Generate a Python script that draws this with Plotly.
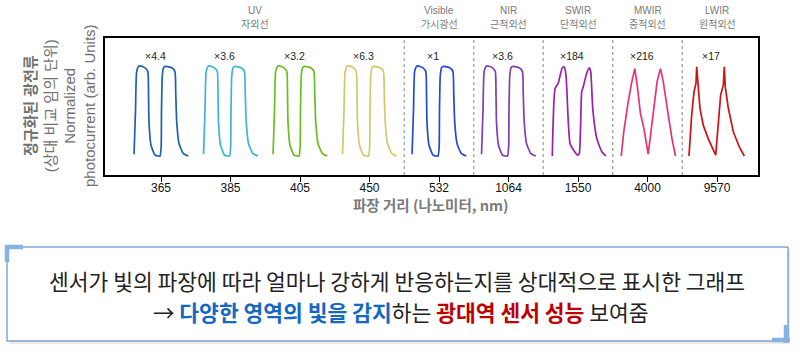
import plotly.graph_objects as go

# ---------------- data ----------------
wavelengths = ["365", "385", "405", "450", "532", "1064", "1550", "4000", "9570"]
multipliers = ["×4.4", "×3.6", "×3.2", "×6.3", "×1", "×3.6", "×184", "×216", "×17"]
waveform_kind = ["square", "square", "square", "square", "square", "square", "swir", "mwir", "lwir"]
band_en = ["UV", "Visible", "NIR", "SWIR", "MWIR", "LWIR"]
band_ko = ["자외선", "가시광선", "근적외선", "단적외선", "중적외선", "원적외선"]
band_members = [[0, 1, 2, 3], [4], [5], [6], [7], [8]]

# normalized waveforms (offset within category, normalized current)
square_t = [-0.388, -0.367, -0.35, -0.317, -0.27, -0.23, -0.19, -0.18, -0.173, -0.144, -0.086, -0.04, -0.014,
            0.002, 0.007, 0.019, 0.04, 0.068, 0.11, 0.154, 0.2, 0.212, 0.226, 0.259, 0.32, 0.393]
square_y = [0.02, 0.51, 0.94, 1.0, 0.995, 0.98, 0.94, 0.70, 0.38, 0.12, 0.01, 0.0, 0.0,
            0.10, 0.50, 0.90, 0.985, 0.995, 0.99, 0.98, 0.94, 0.70, 0.38, 0.14, 0.03, 0.0]
swir_t = [-0.37, -0.33, -0.284, -0.226, -0.197, -0.173, -0.14, -0.115, -0.067, -0.004, 0.019, 0.053, 0.076,
          0.125, 0.163, 0.183, 0.212, 0.269, 0.341, 0.399]
swir_y = [0.0, 0.75, 0.81, 0.98, 0.99, 0.90, 0.38, 0.14, 0.07, 0.01, 0.03, 0.71, 0.77,
          0.92, 0.98, 0.94, 0.53, 0.20, 0.05, 0.0]
mwir_t = [-0.378, -0.341, -0.284, -0.235, -0.183, -0.149, -0.101, -0.053, 0.01, 0.043, 0.105, 0.139,
          0.187, 0.226, 0.292, 0.355, 0.403]
mwir_y = [0.0, 0.27, 0.57, 0.79, 0.97, 0.79, 0.47, 0.31, 0.02, 0.23, 0.68, 0.83,
          0.97, 0.83, 0.49, 0.18, 0.0]
lwir_t = [-0.403, -0.364, -0.331, -0.302, -0.292, -0.277, -0.245, -0.197, -0.125, -0.019, 0.019, 0.053,
          0.091, 0.105, 0.119, 0.163, 0.235, 0.321, 0.393]
lwir_y = [0.0, 0.46, 0.71, 0.81, 0.99, 0.82, 0.53, 0.34, 0.19, 0.01, 0.38, 0.68,
          0.79, 0.99, 0.77, 0.53, 0.27, 0.10, 0.0]

shapes_data = {"square": (square_t, square_y), "swir": (swir_t, swir_y),
               "mwir": (mwir_t, mwir_y), "lwir": (lwir_t, lwir_y)}

# ---------------- styles ----------------
colors = ["#1f5fae", "#3cb3df", "#6bbd1f", "#d3c76a", "#2747d6", "#7d3fb0", "#9a20a6", "#e7327a", "#cc1414"]
XR = [-0.806, 8.59]
YR = [-0.211, 1.311]
FONT = "Liberation Sans, Arial, Noto Sans CJK KR"
KFONT = "Noto Sans CJK KR, Liberation Sans"

# plot area in pixels (for decorations outside the axes)
L, R, T, B = 105, 758, 38, 175
def px(x):
    return (x - L) / (R - L)
def py(y):
    return (B - y) / (B - T)

fig = go.Figure()
for i, kind in enumerate(waveform_kind):
    t, y = shapes_data[kind]
    smooth = kind in ("square", "swir")
    fig.add_trace(go.Scatter(
        x=[i + v for v in t], y=y, mode="lines",
        line=dict(color=colors[i], width=1.7, shape="spline" if smooth else "linear",
                  smoothing=0.5 if smooth else None),
        showlegend=False, hoverinfo="skip"))

annotations = []
for i, m in enumerate(multipliers):
    annotations.append(dict(x=i - 0.08, y=1.11, xref="x", yref="y", text=m, showarrow=False,
                            xanchor="center", yanchor="middle",
                            font=dict(family=FONT, size=10.5, color="#222")))

shapes = []
# group dividers
for members in band_members[:-1]:
    xd = members[-1] + 0.5
    shapes.append(dict(type="line", xref="x", yref="paper", x0=xd, x1=xd, y0=0, y1=1,
                       line=dict(color="#a8a8a8", width=1.4, dash="dot")))

# band titles
for en, ko, members in zip(band_en, band_ko, band_members):
    if len(members) > 1:
        xc = (XR[0] + members[-1] + 0.5) / 2
    else:
        xc = members[0]
    annotations.append(dict(x=xc, y=py(11), xref="x", yref="paper", text=en, showarrow=False,
                            xanchor="center", yanchor="middle",
                            font=dict(family=FONT, size=10, color="#7a7a7a")))
    annotations.append(dict(x=xc, y=py(23.5), xref="x", yref="paper", text=ko, showarrow=False,
                            xanchor="center", yanchor="middle",
                            font=dict(family=KFONT, size=10, color="#7a7a7a")))

# axis titles
annotations.append(dict(x=px(60), y=py(106), xref="paper", yref="paper", textangle=-90,
                        xanchor="center", yanchor="middle",
                        text="<b>정규화된 광전류</b><br>(상대 비교 임의 단위)<br>Normalized<br>photocurrent (arb. Units)",
                        showarrow=False, font=dict(family=FONT, size=15, color="#707070")))
annotations.append(dict(x=px(431), y=py(204), xref="paper", yref="paper",
                        xanchor="center", yanchor="middle",
                        text="<b>파장 거리 (나노미터, nm)</b>", showarrow=False,
                        font=dict(family=KFONT, size=14.5, color="#7a7a7a")))

# caption box with shadow and corner marks
shapes.append(dict(type="rect", xref="paper", yref="paper", x0=px(9), x1=px(790), y0=py(344), y1=py(250),
                   line=dict(width=0), fillcolor="rgba(0,0,0,0.08)", layer="above"))
shapes.append(dict(type="rect", xref="paper", yref="paper", x0=px(7), x1=px(788), y0=py(341), y1=py(247),
                   line=dict(color="#3f7cc4", width=1), fillcolor="white", layer="above"))
for (xa, ya, xb, yb) in [(5, 247, 23, 247), (7, 245, 7, 262), (772, 340, 790, 340), (786, 325, 786, 343)]:
    shapes.append(dict(type="line", xref="paper", yref="paper", x0=px(xa), x1=px(xb), y0=py(ya), y1=py(yb),
                       line=dict(color="#86b3e3", width=4.5), layer="above"))

annotations.append(dict(x=px(397), y=py(280), xref="paper", yref="paper", showarrow=False,
                        xanchor="center", yanchor="middle",
                        text="센서가 빛의 파장에 따라 얼마나 강하게 반응하는지를 상대적으로 표시한 그래프",
                        font=dict(family=KFONT, size=21.5, color="#222")))
annotations.append(dict(x=px(401), y=py(311), xref="paper", yref="paper", showarrow=False,
                        xanchor="center", yanchor="middle",
                        text="→ <b><span style='color:#1667c2'>다양한 영역의 빛을 감지</span></b>하는 "
                             "<b><span style='color:#c00000'>광대역 센서 성능</span></b> 보여줌",
                        font=dict(family=KFONT, size=21.5, color="#222")))

fig.update_layout(
    width=800, height=352, margin=dict(l=L, r=800 - R, t=T, b=352 - B),
    paper_bgcolor="white", plot_bgcolor="white",
    shapes=shapes, annotations=annotations,
    xaxis=dict(range=XR, tickvals=list(range(len(wavelengths))), ticktext=wavelengths,
               showgrid=False, zeroline=False, showline=True, mirror=True, linecolor="black", linewidth=1.6,
               ticks="outside", ticklen=5, tickwidth=1.3, tickcolor="black", ticklabelstandoff=-4,
               tickfont=dict(family=FONT, size=12, color="#111")),
    yaxis=dict(range=YR, showgrid=False, zeroline=False, showline=True, mirror=True, linecolor="black",
               linewidth=1.6, showticklabels=False, ticks=""),
)
fig.write_html("out.html")
